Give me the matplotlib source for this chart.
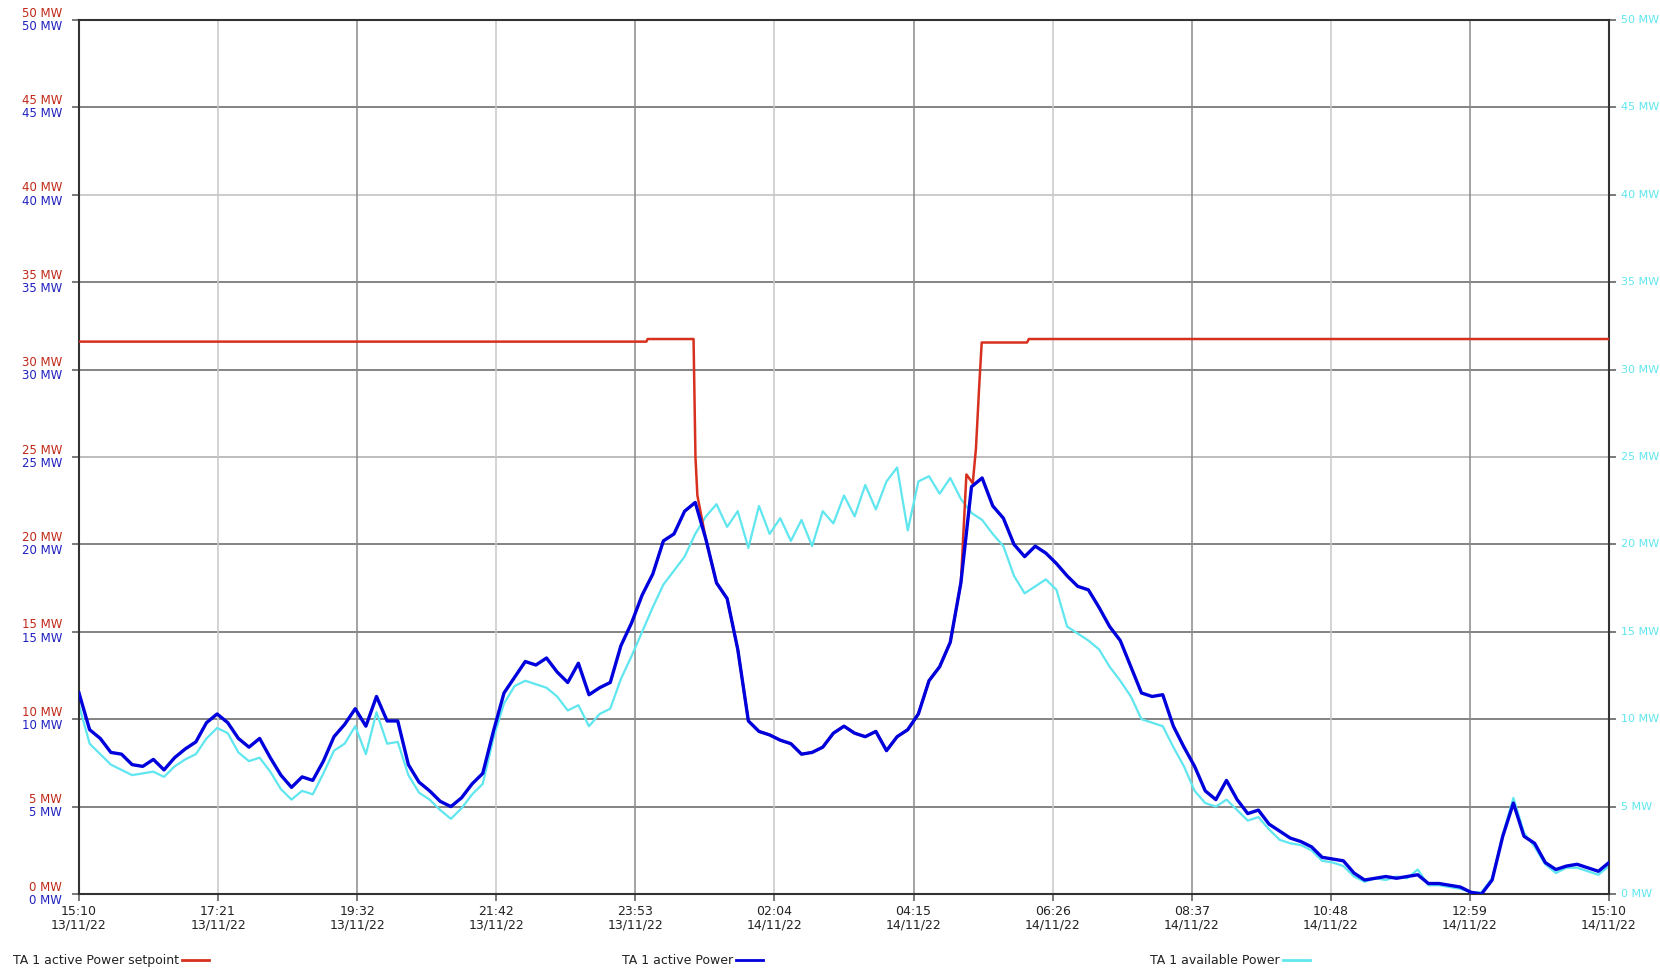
import numpy as np
import matplotlib
matplotlib.use("Agg")
import matplotlib.pyplot as plt
from matplotlib.lines import Line2D

# ---------------- data ----------------
# sampling grid: every 10 minutes from 15:10 13/11/22 to 15:10 14/11/22 (hours since start)
hours = np.arange(0, 145) / 6.0

active_power = [
    11.5, 9.4, 8.9, 8.1, 8.0, 7.4, 7.3, 7.7, 7.1, 7.8,
    8.3, 8.7, 9.8, 10.3, 9.8, 8.9, 8.4, 8.9, 7.8, 6.8,
    6.1, 6.7, 6.5, 7.6, 9.0, 9.7, 10.6, 9.6, 11.3, 9.9,
    9.9, 7.4, 6.4, 5.9, 5.3, 5.0, 5.5, 6.3, 6.9, 9.3,
    11.5, 12.4, 13.3, 13.1, 13.5, 12.7, 12.1, 13.2, 11.4, 11.8,
    12.1, 14.2, 15.5, 17.1, 18.3, 20.2, 20.6, 21.9, 22.4, 20.3,
    17.8, 16.9, 14.0, 9.9, 9.3, 9.1, 8.8, 8.6, 8.0, 8.1,
    8.4, 9.2, 9.6, 9.2, 9.0, 9.3, 8.2, 9.0, 9.4, 10.3,
    12.2, 13.0, 14.4, 17.8, 23.3, 23.8, 22.2, 21.5, 20.0, 19.3,
    19.9, 19.5, 18.9, 18.2, 17.6, 17.4, 16.4, 15.3, 14.5, 13.0,
    11.5, 11.3, 11.4, 9.6, 8.4, 7.3, 5.9, 5.4, 6.5, 5.4,
    4.6, 4.8, 4.0, 3.6, 3.2, 3.0, 2.7, 2.1, 2.0, 1.9,
    1.2, 0.8, 0.9, 1.0, 0.9, 1.0, 1.1, 0.6, 0.6, 0.5,
    0.4, 0.1, 0.0, 0.8, 3.3, 5.2, 3.3, 2.9, 1.8, 1.4,
    1.6, 1.7, 1.5, 1.3, 1.8,
]

available_power = [
    10.8, 8.6, 8.0, 7.4, 7.1, 6.8, 6.9, 7.0, 6.7, 7.3,
    7.7, 8.0, 8.9, 9.5, 9.2, 8.1, 7.6, 7.8, 7.0, 6.0,
    5.4, 5.9, 5.7, 6.9, 8.2, 8.6, 9.6, 8.0, 10.4, 8.6,
    8.7, 6.8, 5.8, 5.4, 4.8, 4.3, 4.9, 5.7, 6.3, 8.9,
    10.9, 11.9, 12.2, 12.0, 11.8, 11.3, 10.5, 10.8, 9.6, 10.3,
    10.6, 12.3, 13.6, 15.0, 16.4, 17.7, 18.5, 19.3, 20.6, 21.6,
    22.3, 21.0, 21.9, 19.8, 22.2, 20.6, 21.5, 20.2, 21.4, 19.9,
    21.9, 21.2, 22.8, 21.6, 23.4, 22.0, 23.6, 24.4, 20.8, 23.6,
    23.9, 22.9, 23.8, 22.6, 21.8, 21.4, 20.6, 19.9, 18.2, 17.2,
    17.6, 18.0, 17.4, 15.3, 14.9, 14.5, 14.0, 13.0, 12.2, 11.3,
    10.0, 9.8, 9.6, 8.4, 7.3, 5.9, 5.2, 5.0, 5.4, 4.8,
    4.2, 4.4, 3.7, 3.1, 2.9, 2.8, 2.5, 1.9, 1.8, 1.6,
    1.0, 0.7, 0.9, 0.8, 1.0, 0.9, 1.4, 0.5, 0.5, 0.4,
    0.3, 0.1, 0.1, 0.9, 3.4, 5.5, 3.5, 2.7, 1.7, 1.2,
    1.5, 1.5, 1.3, 1.1, 1.6,
]

# setpoint: fixed level, dropped to track the active power during curtailment
setpoint_before_hours = [0.0, 8.9, 8.92, 9.64, 9.67, 9.70]
setpoint_before_power = [31.6, 31.6, 31.75, 31.75, 25.0, 22.8]
curtail_first, curtail_last = 59, 84       # samples where setpoint == active power
setpoint_after_hours = [13.92, 14.02, 14.07, 14.12, 14.16, 14.87, 14.9, 24.0]
setpoint_after_power = [24.0, 23.5, 25.5, 29.0, 31.55, 31.55, 31.75, 31.75]

x_tick_labels = ["15:10\n13/11/22", "17:21\n13/11/22", "19:32\n13/11/22",
                 "21:42\n13/11/22", "23:53\n13/11/22", "02:04\n14/11/22",
                 "04:15\n14/11/22", "06:26\n14/11/22", "08:37\n14/11/22",
                 "10:48\n14/11/22", "12:59\n14/11/22", "15:10\n14/11/22"]
y_ticks = list(range(0, 51, 5))
legend_names = ["TA 1 active Power setpoint", "TA 1 active Power", "TA 1 available Power"]

# ---------------- style ----------------
RED = "#d8301e"
BLUE = "#0000dc"
CYAN = "#5fe6ef"
plt.rcParams["font.family"] = ["DejaVu Sans"]

W, H = 1660, 971
fig = plt.figure(figsize=(W / 100, H / 100), dpi=100)
ax = fig.add_axes([79 / W, 1 - 894 / H, (1609 - 79) / W, (894 - 20) / H])
ax.set_xlim(0, 24)
ax.set_ylim(0, 50)

# grid
x_ticks = [k * 24 / 11 for k in range(12)]
hgrid_col = {40: "#c8c8c8", 25: "#b8b8b8"}
for v in y_ticks[1:-1]:
    ax.axhline(v, color=hgrid_col.get(v, "#7a7a7a"), lw=1.3, zorder=0.5)
vgrid_col = ["#c8c8c8", "#8a8a8a"]
for k, xv in enumerate(x_ticks[1:-1]):
    ax.axvline(xv, color=vgrid_col[k % 2], lw=1.1, zorder=0.5)

# series
setpoint_hours = (list(setpoint_before_hours) + list(hours[curtail_first:curtail_last])
                  + list(setpoint_after_hours))
setpoint_power = (list(setpoint_before_power) + list(active_power[curtail_first:curtail_last])
                  + list(setpoint_after_power))
ax.plot(hours, available_power, color=CYAN, lw=1.6, zorder=2)
ax.plot(setpoint_hours, setpoint_power, color=RED, lw=1.8, zorder=3)
ax.plot(hours, active_power, color=BLUE, lw=2.4, zorder=4)

# spines
for s in ax.spines.values():
    s.set_color("#333333")
    s.set_linewidth(1.5)

# ticks
ax.set_yticks(y_ticks)
ax.tick_params(axis="y", which="both", direction="out", length=5, width=1.1,
               color="#555555", left=True, right=True,
               labelleft=False, labelright=False)
ax.set_xticks(x_ticks)
ax.set_xticklabels(x_tick_labels, fontsize=9, color="#222222", linespacing=1.0)
ax.tick_params(axis="x", direction="out", length=5, width=1.1, color="#555555", pad=3)

# y labels
for v in y_ticks:
    ax.annotate(f"{v} MW", xy=(0, v), xycoords=("axes fraction", "data"),
                xytext=(-12, 5), textcoords="offset points",
                ha="right", va="center", fontsize=8.5, color="#c02818")
    ax.annotate(f"{v} MW", xy=(0, v), xycoords=("axes fraction", "data"),
                xytext=(-12, -4.5), textcoords="offset points",
                ha="right", va="center", fontsize=8.5, color="#2020c0")
    ax.annotate(f"{v} MW", xy=(1, v), xycoords=("axes fraction", "data"),
                xytext=(8.5, 0), textcoords="offset points",
                ha="left", va="center", fontsize=8, color=CYAN)

# legend at bottom
fig.canvas.draw()
renderer = fig.canvas.get_renderer()
legend_x = [13, 622, 1150]
legend_cols = [RED, BLUE, CYAN]
ly = 1 - 960 / H
for name, xpx, col in zip(legend_names, legend_x, legend_cols):
    t = fig.text(xpx / W, ly, name, fontsize=9, color="#222222", ha="left", va="center")
    bb = t.get_window_extent(renderer)
    x0 = bb.x1 + 3
    fig.add_artist(Line2D([x0 / W, (x0 + 27) / W], [ly, ly], color=col, lw=2.0,
                          transform=fig.transFigure))

fig.savefig("out.png", dpi=100)
